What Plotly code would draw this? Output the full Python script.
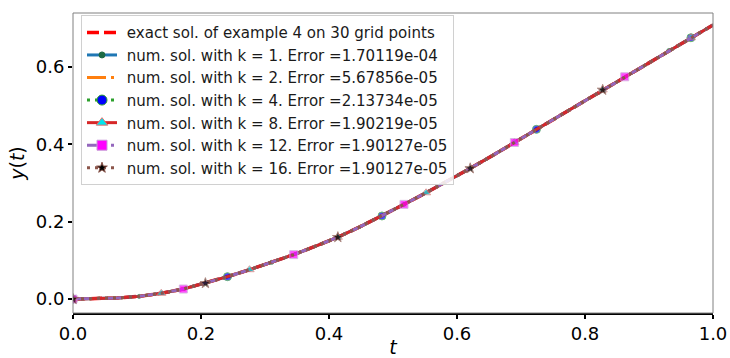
import plotly.graph_objects as go

# 30 grid points on [0, 1]
t_vals = [i / 29 for i in range(30)]
y_exact = [0.000, 0.001, 0.003, 0.007, 0.015, 0.026, 0.041, 0.058, 0.076, 0.095,
           0.115, 0.137, 0.160, 0.187, 0.215, 0.245, 0.275, 0.306, 0.338, 0.371,
           0.405, 0.439, 0.473, 0.507, 0.541, 0.575, 0.609, 0.643, 0.676, 0.709]

labels = ["exact sol. of example 4 on 30 grid points",
          "num. sol. with k = 1. Error =1.70119e-04",
          "num. sol. with k = 2. Error =5.67856e-05",
          "num. sol. with k = 4. Error =2.13734e-05",
          "num. sol. with k = 8. Error =1.90219e-05",
          "num. sol. with k = 12. Error =1.90127e-05",
          "num. sol. with k = 16. Error =1.90127e-05"]

# numerical solutions (visually identical to the exact one)
y_k1 = y_exact
y_k2 = y_exact
y_k4 = y_exact
y_k8 = y_exact
y_k12 = y_exact
y_k16 = y_exact

# marker spacing per series (markevery)
mark_every = [None, 3, None, 7, 4, 5, 6]

styles = [
    dict(color="#ff0000", width=3.5, dash="12px,5px", symbol=None, msize=0, mface=None, medge=None),
    dict(color="#1f77b4", width=3, dash="solid", symbol="circle", msize=4, mface="#1d6b45", medge="#1d6b45"),
    dict(color="#ff7f0e", width=3, dash="19px,5px,3px,5px", symbol=None, msize=0, mface=None, medge=None),
    dict(color="#2ca02c", width=3, dash="3px,5px", symbol="circle", msize=8, mface="#0000ff", medge="#2ca02c"),
    dict(color="#d62728", width=3, dash="solid", symbol="triangle-up", msize=8, mface="#00e5ee", medge="#e07070"),
    dict(color="#9467bd", width=3, dash="19px,5px,3px,5px", symbol="square", msize=8, mface="#ff00ff", medge="#c89ad8"),
    dict(color="#8c564b", width=3, dash="3px,5px", symbol="star", msize=8, mface="#000000", medge="#8c564b"),
]
series = [y_exact, y_k1, y_k2, y_k4, y_k8, y_k12, y_k16]

fig = go.Figure()
font = "DejaVu Sans"

# data traces
for ys, st, me in zip(series, styles, mark_every):
    if st["symbol"] is None:
        fig.add_trace(go.Scatter(x=t_vals, y=ys, mode="lines", showlegend=False,
                                 line=dict(color=st["color"], width=st["width"], dash=st["dash"])))
    else:
        sizes = [st["msize"] if (i % me == 0) else 0 for i in range(len(t_vals))]
        fig.add_trace(go.Scatter(x=t_vals, y=ys, mode="lines+markers", showlegend=False,
                                 line=dict(color=st["color"], width=st["width"], dash=st["dash"]),
                                 marker=dict(symbol=st["symbol"], size=sizes, color=st["mface"],
                                             line=dict(color=st["medge"], width=1))))

# legend entries
for lab, st in zip(labels, styles):
    name = "&nbsp;" + lab
    lsize = st["msize"] + (0 if st["symbol"] == "star" else 2)
    if st["symbol"] is None:
        fig.add_trace(go.Scatter(x=[None], y=[None], mode="lines", name=name,
                                 line=dict(color=st["color"], width=st["width"], dash=st["dash"])))
    else:
        fig.add_trace(go.Scatter(x=[None], y=[None], mode="lines+markers", name=name,
                                 line=dict(color=st["color"], width=st["width"], dash=st["dash"]),
                                 marker=dict(symbol=st["symbol"], size=lsize, color=st["mface"],
                                             line=dict(color=st["medge"], width=1))))

fig.add_shape(type="rect", xref="paper", yref="paper", x0=0, x1=1, y0=0, y1=1,
              line=dict(color="#808080", width=1), layer="above")

fig.update_layout(
    width=730, height=358,
    margin=dict(l=73, r=17, t=13, b=45),
    paper_bgcolor="white", plot_bgcolor="white",
    font=dict(family=font, color="black"),
    showlegend=True,
    legend=dict(x=0.0125, y=0.993, xanchor="left", yanchor="top",
                bgcolor="rgba(255,255,255,0.85)", bordercolor="#d0d0d0", borderwidth=1,
                font=dict(family=font, size=15.05, color="#1a1a1a"),
                itemwidth=30, tracegroupgap=0),
    xaxis=dict(range=[0, 1], tickvals=[0, 0.2, 0.4, 0.6, 0.8, 1.0],
               ticktext=["0.0", "0.2", "0.4", "0.6", "0.8", "1.0"], automargin=False,
               showgrid=False, zeroline=False, showline=True, linecolor="black", linewidth=1.5,
               ticks="outside", ticklen=4, tickwidth=1.5, tickcolor="black",
               tickfont=dict(size=18),
               title=dict(text="<i>t</i>", font=dict(size=19), standoff=4)),
    yaxis=dict(range=[-0.036, 0.740], tickvals=[0.0, 0.2, 0.4, 0.6],
               ticktext=["0.0", "0.2", "0.4", "0.6"], automargin=False,
               showgrid=False, zeroline=False, showline=False,
               ticks="outside", ticklen=4, tickwidth=1.5, tickcolor="black",
               tickfont=dict(size=18),
               title=dict(text="<i>y</i>(<i>t</i>)", font=dict(size=19), standoff=6)),
)

fig.write_html("out.html")
